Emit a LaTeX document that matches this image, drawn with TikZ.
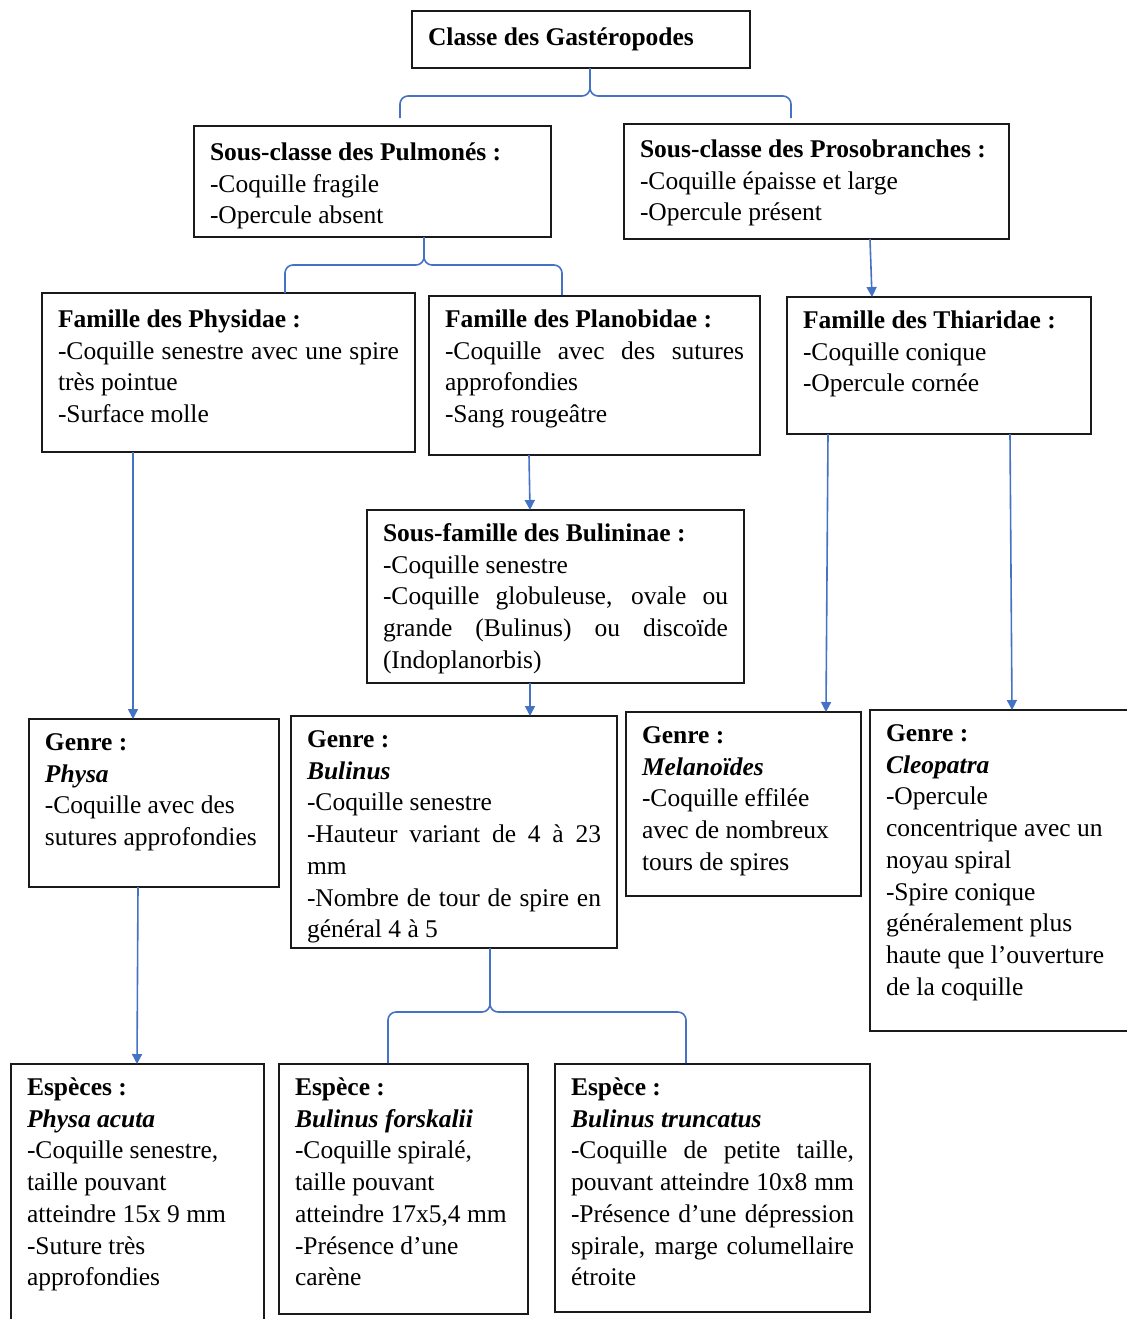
\documentclass[tikz,border=0pt]{standalone}
\usepackage{fontspec}
\setmainfont{Liberation Serif}
\usetikzlibrary{arrows.meta}
\definecolor{conncol}{HTML}{4472C4}
\definecolor{boxcol}{HTML}{1A1A1A}
\newcommand\jl[1]{\makebox[\linewidth][s]{#1}}
\def\fsh{15.75pt}
\newcommand\fl{\rule{0pt}{\fsh}}
\newcommand\bx[6]{\node[boxst] (#1) at (#2,#3) {\begin{minipage}[t][#5][t]{#4}\fontsize{12.75pt}{15.85pt}\selectfont\fl #6\end{minipage}};}
\newcommand\bi[1]{\textbf{\textit{#1}}}
\tikzset{
  boxst/.style={draw=boxcol, line width=1pt, anchor=north west, inner xsep=8pt, inner ysep=0pt, outer sep=0pt, fill=white},
  conn/.style={draw=conncol, line width=0.8pt},
  arr/.style={conn, -{Triangle[length=5pt,width=5pt]}}
}
\begin{document}
\begin{tikzpicture}[x=0.5pt, y=-0.5pt]
\useasboundingbox (0,0) rectangle (1126,1319);
% boxes
\def\fsh{17.25pt}
\bx{top}{412}{11}{153pt}{28.5pt}{\textbf{Classe des Gastéropodes}}
\bx{pulm}{194}{126}{162.5pt}{55.5pt}{\textbf{Sous-classe des Pulmonés :}\\-Coquille fragile\\-Opercule absent}
\def\fsh{16.75pt}
\bx{proso}{624}{124}{176.5pt}{57.5pt}{\textbf{Sous-classe des Prosobranches :}\\-Coquille épaisse et large\\-Opercule présent}
\def\fsh{17.25pt}
\bx{phys}{42}{293}{170.5pt}{79.5pt}{\textbf{Famille des Physidae :}\\\jl{-Coquille senestre avec une spire}\\très pointue\\-Surface molle}
\def\fsh{15.75pt}
\bx{plano}{429}{296}{149.5pt}{79.5pt}{\textbf{Famille des Planobidae :}\\\jl{-Coquille avec des sutures}\\approfondies\\-Sang rougeâtre}
\bx{thia}{787}{297}{136pt}{68.5pt}{\textbf{Famille des Thiaridae :}\\-Coquille conique\\-Opercule cornée}
\bx{bulin}{367}{510}{172.5pt}{86.5pt}{\textbf{Sous-famille des Bulininae :}\\-Coquille senestre\\\jl{-Coquille globuleuse, ovale ou}\\\jl{grande (Bulinus) ou discoïde}\\(Indoplanorbis)}
\bx{gphysa}{29}{719}{109pt}{84pt}{\textbf{Genre :}\\\bi{Physa}\\-Coquille avec des\\sutures approfondies}
\bx{gbul}{291}{716}{147pt}{116pt}{\textbf{Genre :}\\\bi{Bulinus}\\-Coquille senestre\\\jl{-Hauteur variant de 4 à 23}\\mm\\\jl{-Nombre de tour de spire en}\\général 4 à 5}
\bx{gmel}{626}{712}{101.5pt}{92pt}{\textbf{Genre :}\\\bi{Melanoïdes}\\-Coquille effilée\\avec de nombreux\\tours de spires}
\bx{gcleo}{870}{710}{121.5pt}{160.5pt}{\textbf{Genre :}\\\bi{Cleopatra}\\-Opercule\\concentrique avec un\\noyau spiral\\-Spire conique\\généralement plus\\haute que l’ouverture\\de la coquille}
\bx{sphys}{11}{1064}{110.5pt}{140pt}{\textbf{Espèces :}\\\bi{Physa acuta}\\-Coquille senestre,\\taille pouvant\\atteindre 15x 9 mm\\-Suture très\\approfondies}
\bx{sfors}{279}{1064}{108.5pt}{125pt}{\textbf{Espèce :}\\\bi{Bulinus forskalii}\\-Coquille spiralé,\\taille pouvant\\atteindre 17x5,4 mm\\-Présence d’une\\carène}
\bx{strunc}{555}{1064}{141.5pt}{124pt}{\textbf{Espèce :}\\\bi{Bulinus truncatus}\\\jl{-Coquille de petite taille,}\\\jl{pouvant atteindre 10x8 mm}\\\jl{-Présence d’une dépression}\\\jl{spirale, marge columellaire}\\étroite}
% brace connectors
\coordinate (b1m) at (590,96);
\coordinate (b1l) at (400,118);
\coordinate (b1r) at (791,118);
\draw[conn, rounded corners=4pt] (b1l) |- (b1m) -- (top.south -| b1m);
\draw[conn, rounded corners=4pt] (b1r) |- (b1m) -- (top.south -| b1m);
\coordinate (b2m) at (424,265);
\coordinate (b2l) at (285,293);
\coordinate (b2r) at (562,295);
\draw[conn, rounded corners=4pt] (b2l) |- (b2m) -- (pulm.south -| b2m);
\draw[conn, rounded corners=4pt] (b2r) |- (b2m) -- (pulm.south -| b2m);
\coordinate (b3m) at (490,1012);
\coordinate (b3l) at (388,1063);
\coordinate (b3r) at (686,1063);
\draw[conn, rounded corners=4pt] (b3l) |- (b3m) -- (gbul.south -| b3m);
\draw[conn, rounded corners=4pt] (b3r) |- (b3m) -- (gbul.south -| b3m);
% arrows
\draw[arr] ([xshift=45.5pt]phys.south west) -- ([xshift=52pt]gphysa.north west);
\draw[arr] ([xshift=54.5pt]gphysa.south west) -- ([xshift=63pt]sphys.north west);
\draw[arr] ([xshift=50pt]plano.south west) -- ([xshift=81.5pt]bulin.north west);
\draw[arr] ([xshift=81.5pt]bulin.south west) -- ([xshift=119.5pt]gbul.north west);
\draw[arr] ([xshift=123pt]proso.south west) -- ([xshift=42.5pt]thia.north west);
\draw[arr] ([xshift=20.5pt]thia.south west) -- ([xshift=100pt]gmel.north west);
\draw[arr] ([xshift=111.5pt]thia.south west) -- ([xshift=71pt]gcleo.north west);
\end{tikzpicture}
\end{document}
